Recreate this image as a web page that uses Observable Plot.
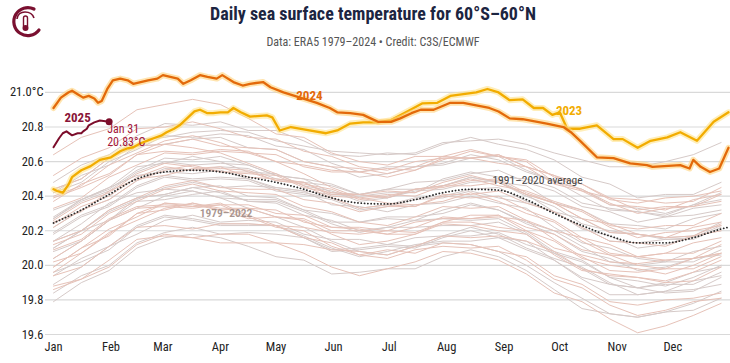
<!DOCTYPE html>
<html>
<head>
<meta charset="utf-8">
<script src="https://cdn.jsdelivr.net/npm/d3@7"></script>
<script src="https://cdn.jsdelivr.net/npm/@observablehq/plot@0.6"></script>
<style>
  html, body { margin: 0; padding: 0; background: #fff; }
  #wrap { position: relative; width: 730px; height: 363px; overflow: hidden; font-family: "Roboto Condensed", "Liberation Sans Narrow", "DejaVu Sans Condensed", Roboto, sans-serif; }
  #title { position: absolute; left: 0; width: 746px; top: 3px; text-align: center; font-size: 18px; font-weight: 700; color: #1c2541; white-space: nowrap; }
  #subtitle { position: absolute; left: 0; width: 746px; top: 35px; text-align: center; font-size: 12px; color: #555; white-space: nowrap; }
  #logo { position: absolute; left: 8px; top: 3px; }
  #chart { position: absolute; left: 0; top: 58px; }
</style>
</head>
<body>
<div id="wrap">
  <svg id="logo" width="36" height="36" viewBox="0 0 36 36">
    <path d="M26 6 A14 14 0 1 0 31 27" fill="none" stroke="#7a1030" stroke-width="3.2" stroke-linecap="round"/>
    <path d="M9 16 Q10 9 17 9 Q24 9 26 15" fill="none" stroke="#7a1030" stroke-width="1.6"/>
    <rect x="15.5" y="13" width="4" height="12" rx="2" fill="none" stroke="#7a1030" stroke-width="1.4"/>
    <circle cx="17.5" cy="25" r="3" fill="#7a1030"/>
  </svg>
  <div id="title">Daily sea surface temperature for 60°S–60°N</div>
  <div id="subtitle">Data: ERA5 1979–2024 • Credit: C3S/ECMWF</div>
  <div id="chart"></div>
</div>
<script>
// ---- axis ticks ----
const monthStarts = [0, 31, 59, 90, 120, 151, 181, 212, 243, 273, 304, 334];
const monthLabels = ["Jan","Feb","Mar","Apr","May","Jun","Jul","Aug","Sep","Oct","Nov","Dec"];
const yTicks = [19.6, 19.8, 20.0, 20.2, 20.4, 20.6, 20.8, 21.0];

// ---- 1979–2022 background years (sampled every 15 days) ----
const bgDays = [0,15,30,45,60,75,90,105,120,135,150,165,180,195,210,225,240,255,270,285,300,315,330,345,360];
const bgYears = [1979,1980,1981,1982,1983,1984,1985,1986,1987,1988,1989,1990,1991,1992,1993,1994,1995,1996,1997,1998,1999,2000,2001,2002,2003,2004,2005,2006,2007,2008,2009,2010,2011,2012,2013,2014,2015,2016,2017,2018,2019,2020,2021,2022];
const bgValues = [
  [19.94,20.04,20.11,20.23,20.29,20.27,20.24,20.24,20.23,20.16,20.09,20.10,20.12,20.11,20.17,20.22,20.18,20.10,20.04,19.99,19.90,19.83,19.85,19.91,19.94],
  [19.99,20.10,20.21,20.28,20.36,20.35,20.32,20.27,20.28,20.26,20.18,20.12,20.14,20.18,20.24,20.23,20.20,20.18,20.06,19.97,19.95,19.93,19.90,19.91,19.99],
  [19.96,20.02,20.09,20.22,20.28,20.26,20.23,20.23,20.23,20.17,20.10,20.05,20.08,20.12,20.14,20.14,20.16,20.14,20.03,19.92,19.83,19.83,19.85,19.86,19.89],
  [19.94,19.99,20.11,20.22,20.23,20.21,20.24,20.24,20.23,20.22,20.19,20.18,20.20,20.19,20.25,20.29,20.29,20.20,20.10,20.06,20.02,20.01,20.03,20.04,20.07],
  [20.14,20.24,20.36,20.42,20.44,20.43,20.39,20.33,20.28,20.22,20.14,20.08,20.06,20.11,20.13,20.12,20.08,20.00,19.90,19.81,19.72,19.70,19.73,19.78,19.85],
  [19.86,19.92,19.99,20.12,20.18,20.16,20.13,20.13,20.13,20.07,19.99,19.94,19.98,20.02,20.08,20.07,20.03,19.95,19.84,19.79,19.69,19.61,19.65,19.71,19.78],
  [19.79,19.90,19.97,20.10,20.16,20.18,20.16,20.11,20.05,20.03,19.95,19.96,19.98,19.98,20.05,20.09,20.05,19.97,19.86,19.75,19.72,19.70,19.73,19.74,19.81],
  [19.88,19.92,20.03,20.15,20.17,20.16,20.18,20.18,20.13,20.12,20.09,20.08,20.06,20.11,20.17,20.16,20.17,20.14,20.08,19.98,19.94,19.93,19.91,19.96,20.03],
  [20.04,20.14,20.26,20.33,20.40,20.43,20.39,20.38,20.38,20.32,20.30,20.25,20.28,20.28,20.30,20.35,20.32,20.24,20.18,20.08,20.04,19.97,19.99,20.04,20.06],
  [20.09,20.15,20.27,20.34,20.35,20.34,20.36,20.29,20.23,20.16,20.13,20.06,20.04,20.09,20.11,20.10,20.11,20.03,19.92,19.87,19.77,19.71,19.74,19.79,19.81],
  [19.84,19.94,20.00,20.13,20.19,20.22,20.18,20.19,20.18,20.16,20.08,20.09,20.11,20.10,20.16,20.20,20.16,20.09,20.03,19.93,19.89,19.87,19.84,19.85,19.93],
  [19.96,20.07,20.19,20.26,20.33,20.36,20.32,20.33,20.32,20.25,20.22,20.21,20.18,20.22,20.28,20.27,20.28,20.26,20.15,20.05,19.97,19.96,19.98,19.98,20.05],
  [20.08,20.14,20.26,20.37,20.38,20.41,20.43,20.37,20.36,20.29,20.26,20.20,20.22,20.26,20.27,20.26,20.27,20.19,20.08,20.03,19.93,19.91,19.88,19.93,20.00],
  [20.04,20.14,20.26,20.33,20.34,20.33,20.35,20.28,20.22,20.20,20.11,20.06,20.09,20.07,20.13,20.12,20.08,20.05,19.94,19.89,19.79,19.77,19.80,19.81,19.84],
  [19.89,19.99,20.11,20.18,20.26,20.29,20.25,20.26,20.25,20.18,20.15,20.15,20.12,20.16,20.17,20.17,20.19,20.12,20.07,19.98,19.89,19.87,19.89,19.89,19.96],
  [19.99,20.10,20.17,20.30,20.36,20.34,20.35,20.35,20.30,20.29,20.22,20.22,20.20,20.25,20.27,20.27,20.29,20.22,20.18,20.09,20.06,20.00,19.98,20.04,20.07],
  [20.10,20.20,20.26,20.39,20.41,20.45,20.42,20.37,20.37,20.31,20.24,20.19,20.22,20.22,20.23,20.23,20.25,20.18,20.07,20.02,19.93,19.87,19.90,19.96,19.99],
  [20.02,20.07,20.18,20.30,20.32,20.36,20.33,20.33,20.28,20.27,20.20,20.20,20.18,20.18,20.25,20.25,20.22,20.20,20.14,20.04,20.00,19.98,19.95,20.00,20.07],
  [20.10,20.20,20.31,20.38,20.45,20.48,20.45,20.46,20.45,20.43,20.41,20.40,20.42,20.42,20.50,20.54,20.51,20.50,20.45,20.36,20.33,20.31,20.28,20.33,20.35],
  [20.40,20.46,20.58,20.65,20.72,20.75,20.71,20.65,20.60,20.53,20.45,20.39,20.36,20.35,20.37,20.42,20.37,20.30,20.25,20.14,20.06,20.05,20.03,20.04,20.12],
  [20.14,20.20,20.32,20.39,20.41,20.45,20.46,20.40,20.39,20.32,20.25,20.25,20.27,20.26,20.32,20.36,20.32,20.25,20.20,20.11,20.02,20.00,20.02,20.02,20.09],
  [20.12,20.18,20.30,20.37,20.44,20.47,20.43,20.42,20.41,20.34,20.31,20.25,20.23,20.28,20.34,20.33,20.34,20.26,20.20,20.16,20.07,20.05,20.07,20.07,20.14],
  [20.18,20.28,20.34,20.45,20.51,20.49,20.50,20.49,20.43,20.41,20.38,20.32,20.34,20.38,20.39,20.43,20.39,20.36,20.31,20.22,20.14,20.13,20.15,20.15,20.22],
  [20.24,20.34,20.40,20.51,20.57,20.55,20.56,20.55,20.49,20.47,20.44,20.38,20.40,20.44,20.45,20.49,20.50,20.42,20.36,20.31,20.22,20.16,20.19,20.20,20.23],
  [20.27,20.38,20.45,20.57,20.59,20.63,20.60,20.54,20.53,20.46,20.43,20.37,20.39,20.43,20.44,20.48,20.49,20.41,20.31,20.27,20.19,20.18,20.16,20.17,20.25],
  [20.26,20.36,20.42,20.53,20.59,20.57,20.54,20.54,20.49,20.48,20.41,20.41,20.39,20.44,20.46,20.46,20.48,20.41,20.36,20.27,20.24,20.18,20.16,20.22,20.25],
  [20.28,20.38,20.44,20.55,20.62,20.61,20.63,20.58,20.52,20.50,20.42,20.41,20.44,20.44,20.46,20.51,20.48,20.40,20.34,20.24,20.20,20.18,20.15,20.16,20.23],
  [20.25,20.31,20.43,20.50,20.52,20.56,20.57,20.51,20.50,20.48,20.40,20.39,20.41,20.40,20.46,20.50,20.46,20.43,20.37,20.32,20.23,20.21,20.23,20.23,20.30],
  [20.32,20.38,20.45,20.52,20.54,20.53,20.55,20.50,20.45,20.43,20.35,20.34,20.31,20.35,20.36,20.40,20.36,20.33,20.22,20.13,20.10,20.04,20.02,20.08,20.11],
  [20.14,20.20,20.32,20.39,20.46,20.49,20.45,20.44,20.44,20.38,20.36,20.31,20.34,20.34,20.41,20.41,20.43,20.36,20.31,20.22,20.14,20.13,20.11,20.17,20.20],
  [20.22,20.32,20.38,20.49,20.56,20.55,20.57,20.56,20.50,20.48,20.46,20.41,20.44,20.48,20.49,20.53,20.55,20.48,20.43,20.34,20.31,20.25,20.28,20.29,20.32],
  [20.37,20.47,20.53,20.64,20.70,20.68,20.65,20.59,20.53,20.46,20.39,20.33,20.35,20.34,20.40,20.39,20.40,20.32,20.26,20.16,20.12,20.05,20.07,20.13,20.16],
  [20.19,20.29,20.35,20.46,20.52,20.50,20.51,20.50,20.44,20.42,20.39,20.33,20.35,20.39,20.40,20.44,20.45,20.37,20.31,20.21,20.17,20.10,20.12,20.17,20.20],
  [20.22,20.32,20.38,20.49,20.55,20.58,20.54,20.53,20.52,20.45,20.42,20.41,20.43,20.42,20.48,20.52,20.48,20.41,20.36,20.27,20.19,20.18,20.16,20.17,20.24],
  [20.27,20.37,20.43,20.54,20.60,20.58,20.59,20.58,20.52,20.50,20.47,20.41,20.39,20.44,20.46,20.51,20.48,20.46,20.36,20.32,20.24,20.23,20.21,20.27,20.30],
  [20.33,20.39,20.51,20.58,20.65,20.64,20.66,20.65,20.64,20.57,20.54,20.54,20.56,20.55,20.61,20.66,20.63,20.61,20.51,20.47,20.39,20.38,20.36,20.37,20.45],
  [20.44,20.50,20.62,20.73,20.74,20.77,20.78,20.77,20.72,20.69,20.66,20.65,20.64,20.65,20.71,20.72,20.73,20.70,20.65,20.61,20.57,20.57,20.60,20.64,20.71],
  [20.64,20.74,20.79,20.90,20.93,20.96,20.93,20.85,20.76,20.74,20.65,20.60,20.58,20.63,20.63,20.67,20.63,20.60,20.48,20.44,20.36,20.30,20.33,20.34,20.37],
  [20.42,20.48,20.60,20.67,20.75,20.74,20.76,20.75,20.69,20.67,20.59,20.54,20.57,20.57,20.59,20.64,20.61,20.54,20.49,20.40,20.32,20.31,20.29,20.35,20.38],
  [20.39,20.45,20.52,20.64,20.66,20.65,20.67,20.66,20.60,20.58,20.55,20.54,20.51,20.55,20.62,20.62,20.64,20.57,20.52,20.47,20.38,20.36,20.39,20.40,20.43],
  [20.48,20.58,20.64,20.75,20.82,20.81,20.83,20.78,20.78,20.72,20.64,20.63,20.65,20.64,20.70,20.74,20.70,20.67,20.61,20.51,20.47,20.39,20.41,20.41,20.48],
  [20.52,20.62,20.68,20.79,20.80,20.83,20.79,20.74,20.73,20.66,20.63,20.57,20.55,20.60,20.62,20.62,20.64,20.57,20.52,20.43,20.35,20.34,20.32,20.38,20.41],
  [20.42,20.52,20.58,20.69,20.70,20.73,20.74,20.68,20.67,20.60,20.57,20.51,20.53,20.57,20.58,20.62,20.63,20.55,20.49,20.44,20.35,20.33,20.30,20.35,20.42],
  [20.44,20.50,20.62,20.69,20.70,20.73,20.69,20.68,20.67,20.60,20.57,20.56,20.53,20.57,20.63,20.62,20.59,20.57,20.47,20.43,20.39,20.32,20.34,20.34,20.41]
];

// ---- 1991–2020 average ----
const avgDays = [0,15,30,45,60,75,90,105,120,135,150,165,180,195,210,225,240,255,270,285,300,315,330,345,360,364];
const avgValues = [20.245,20.32,20.41,20.50,20.54,20.55,20.54,20.51,20.48,20.44,20.39,20.36,20.355,20.38,20.42,20.44,20.435,20.38,20.30,20.23,20.17,20.13,20.13,20.16,20.21,20.22];

// ---- 2023 ----
const days2023 = [0,2,5,8,10,15,20,25,31,36,40,43,47,51,54,58,61,65,68,72,76,79,83,86,90,94,97,101,106,115,118,122,128,138,147,153,160,167,175,182,189,199,207,214,221,228,234,240,246,253,259,264,269,273,277,284,293,302,307,315,322,331,338,347,356,364];
const sst2023 = [20.44,20.43,20.42,20.465,20.51,20.55,20.574,20.61,20.625,20.66,20.677,20.683,20.706,20.723,20.735,20.75,20.77,20.79,20.81,20.85,20.89,20.90,20.88,20.88,20.885,20.885,20.91,20.885,20.86,20.867,20.856,20.78,20.80,20.78,20.764,20.78,20.82,20.827,20.827,20.84,20.88,20.937,20.94,20.98,20.99,21.0,21.02,21.0,20.955,20.96,20.91,20.91,20.87,20.885,20.79,20.79,20.81,20.73,20.73,20.68,20.72,20.74,20.77,20.72,20.83,20.885];

// ---- 2024 ----
const days2024 = [0,4,8,10,13,16,19,22,24,26,29,32,36,40,43,47,51,56,59,63,67,70,74,79,83,88,91,97,102,106,113,117,124,133,142,149,153,160,167,171,175,182,187,193,198,205,214,221,228,235,240,246,253,266,275,279,284,293,302,311,320,323,338,343,345,349,354,359,364];
const sst2024 = [20.91,20.97,21.00,21.01,20.99,20.97,20.98,20.965,20.94,20.95,21.02,21.07,21.08,21.07,21.05,21.06,21.07,21.08,21.10,21.09,21.08,21.05,21.07,21.10,21.09,21.08,21.10,21.06,21.04,21.05,21.06,21.03,21.00,20.97,20.94,20.91,20.885,20.88,20.87,20.85,20.83,20.83,20.85,20.88,20.90,20.90,20.94,20.94,20.925,20.91,20.89,20.85,20.845,20.82,20.80,20.77,20.72,20.625,20.62,20.59,20.58,20.57,20.58,20.56,20.61,20.57,20.54,20.56,20.68];

// ---- 2025 (January) ----
const days2025 = [0,3,5,7,10,13,15,16,18,19,22,25,30];
const sst2025 = [20.683,20.735,20.764,20.775,20.752,20.764,20.764,20.775,20.79,20.81,20.827,20.838,20.83];

// ---- labels ----
const labelText  = ["2024", "2023", "2025", "1979–2022", "1991–2020 average"];
const labelDay   = [138, 278, 13, 93, 261];
const labelValue = [20.982, 20.895, 20.855, 20.30, 20.49];
const endText = "Jan 31\n20.83°C";

// ---- build tables ----
const bgRows = bgYears.flatMap((yr, i) => bgDays.map((d, j) => ({year: yr, tone: i % 2, day: d, value: bgValues[i][j]})));
const avgRows = avgDays.map((d, i) => ({day: d, value: avgValues[i]}));
const rows2023 = days2023.map((d, i) => ({day: d, value: sst2023[i]}));
const rows2024 = days2024.map((d, i) => ({day: d, value: sst2024[i]}));
const rows2025 = days2025.map((d, i) => ({day: d, value: sst2025[i]}));
const labels = labelText.map((t, i) => ({text: t, day: labelDay[i], value: labelValue[i]}));
const last2025 = rows2025[rows2025.length - 1];

const chart = Plot.plot({
  width: 730,
  height: 305,
  marginLeft: 53,
  marginRight: 2,
  marginTop: 8,
  marginBottom: 29,
  x: {domain: [0, 364]},
  y: {domain: [19.6, 21.15]},
  style: {fontFamily: "'Roboto Condensed', 'Liberation Sans Narrow', Roboto, sans-serif", fontSize: "12.5px", color: "#222", background: "transparent"},
  marks: [
    Plot.ruleY(yTicks, {stroke: "#d9d9d9", strokeWidth: 1.2, insetLeft: -8, insetRight: -2}),
    Plot.axisY(yTicks, {tickSize: 0, tickPadding: 10, label: null, fontSize: 12.5,
      tickFormat: d => d === 21 ? "21.0°C" : d.toFixed(1)}),
    Plot.axisX(monthStarts, {tickSize: 0, tickPadding: 8, label: null, fontSize: 12.5,
      tickFormat: d => monthLabels[monthStarts.indexOf(d)]}),
    Plot.line(bgRows.filter(r => r.tone === 0), {x: "day", y: "value", z: "year", stroke: "#d6cac8", strokeWidth: 1}),
    Plot.line(bgRows.filter(r => r.tone === 1), {x: "day", y: "value", z: "year", stroke: "#e6c2b8", strokeWidth: 1}),
    Plot.line(avgRows, {x: "day", y: "value", curve: "monotone-x", stroke: "#2a2a2a", strokeWidth: 1.8, strokeDasharray: "0.1,3.2", strokeLinecap: "round"}),
    Plot.line(rows2023, {x: "day", y: "value", stroke: "#ffe28a", strokeWidth: 6, strokeOpacity: 0.6, strokeLinejoin: "round"}),
    Plot.line(rows2023, {x: "day", y: "value", stroke: "#f2ac00", strokeWidth: 2.3, strokeLinejoin: "round"}),
    Plot.line(rows2024, {x: "day", y: "value", stroke: "#ffd27a", strokeWidth: 6, strokeOpacity: 0.6, strokeLinejoin: "round"}),
    Plot.line(rows2024, {x: "day", y: "value", stroke: "#e3690a", strokeWidth: 2.3, strokeLinejoin: "round"}),
    Plot.line(rows2025, {x: "day", y: "value", stroke: "#7c0d2b", strokeWidth: 2, strokeLinejoin: "round"}),
    Plot.dot([last2025], {x: "day", y: "value", r: 3.5, fill: "#7c0d2b"}),
    Plot.text([last2025], {x: "day", y: "value", text: () => endText, textAnchor: "start", lineAnchor: "top", dx: -2, dy: 2, fill: "#a3173a", fontSize: 12, lineHeight: 1.1}),
    Plot.text([labels[0]], {x: "day", y: "value", text: "text", fill: "#e3690a", fontWeight: 700, fontSize: 13}),
    Plot.text([labels[1]], {x: "day", y: "value", text: "text", fill: "#f2ac00", fontWeight: 700, fontSize: 13}),
    Plot.text([labels[2]], {x: "day", y: "value", text: "text", fill: "#8a1538", fontWeight: 700, fontSize: 13}),
    Plot.text([labels[3]], {x: "day", y: "value", text: "text", fill: "#a8958f", fontWeight: 600, fontSize: 11.5}),
    Plot.text([labels[4]], {x: "day", y: "value", text: "text", fill: "#444", fontSize: 11.5})
  ]
});
document.getElementById("chart").appendChild(chart);
</script>
</body>
</html>
